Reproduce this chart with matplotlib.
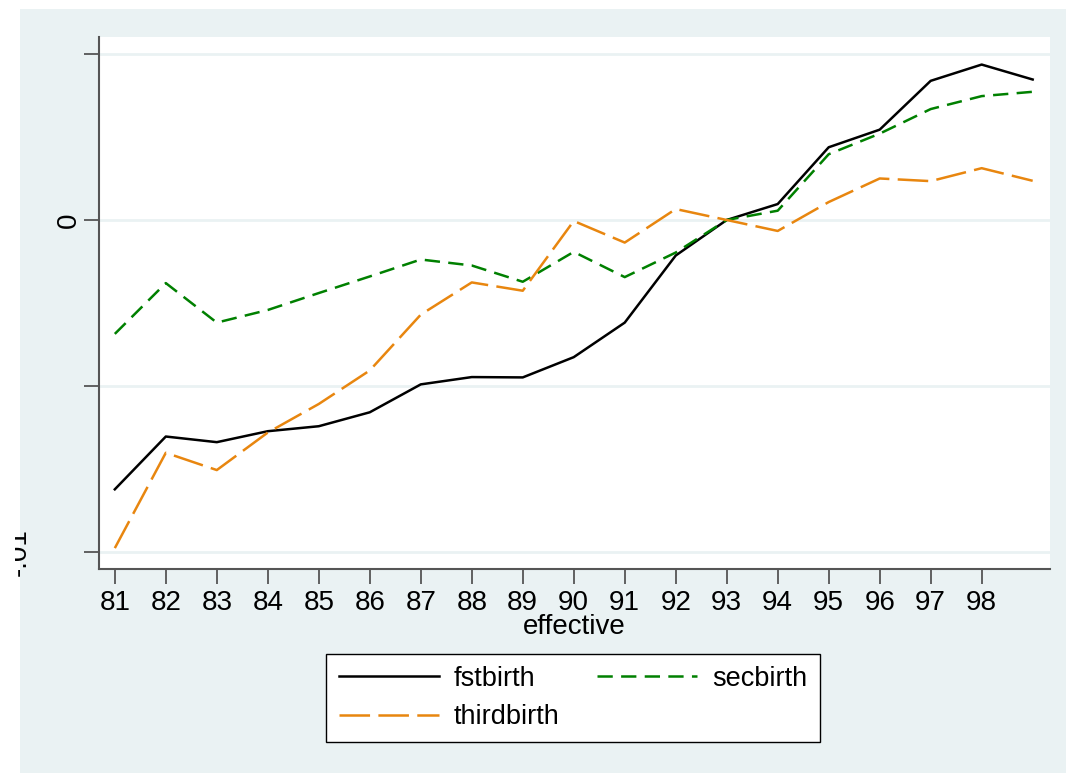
import matplotlib
matplotlib.use("Agg")
import matplotlib.pyplot as plt
from matplotlib.patches import Rectangle
from matplotlib.transforms import Bbox, TransformedBbox, blended_transform_factory

# data
years = list(range(81, 100))
fstbirth = [-0.00811, -0.00652, -0.00669, -0.00636, -0.00621, -0.00579, -0.00495,
            -0.00473, -0.00474, -0.00413, -0.00309, -0.00107, 0.0, 0.00048,
            0.00219, 0.00272, 0.00419, 0.00468, 0.00423]
secbirth = [-0.00343, -0.00190, -0.00309, -0.00271, -0.00220, -0.00170, -0.00119,
            -0.00137, -0.00186, -0.00096, -0.00172, -0.00098, 0.0, 0.00028,
            0.00198, 0.00260, 0.00334, 0.00373, 0.00386]
thirdbirth = [-0.00988, -0.00701, -0.00753, -0.00640, -0.00554, -0.00453, -0.00285,
              -0.00188, -0.00213, -0.00003, -0.00068, 0.00033, 0.0, -0.00033,
              0.00054, 0.00125, 0.00117, 0.00156, 0.00118]
xtick_labels = [str(y) for y in range(81, 99)]
ytick_vals = [-0.01, -0.005, 0, 0.005]

plt.rcParams['font.family'] = ['Liberation Sans', 'DejaVu Sans']
plt.rcParams['lines.scale_dashes'] = False

W, H = 1066, 773
bg = '#EAF2F3'
fig = plt.figure(figsize=(W / 100, H / 100), dpi=100)
fig.patch.set_facecolor('white')
# stata style outer region (white strip on top and left)
fig.patches.append(Rectangle((20 / W, 0), 1 - 20 / W, 1 - 9 / H, transform=fig.transFigure,
                             facecolor=bg, edgecolor='none', zorder=-10))

left, right, top, bottom = 98.5, 1050, 37, 568.7
ax = fig.add_axes([left / W, 1 - bottom / H, (right - left) / W, (bottom - top) / H])
ax.set_facecolor('white')

l1, = ax.plot(years, fstbirth, color='black', lw=1.8, label='fstbirth', zorder=3)
l2, = ax.plot(years, secbirth, color='#008000', lw=1.8, dashes=(11, 6), label='secbirth', zorder=3)
l3, = ax.plot(years, thirdbirth, color='#E8860F', lw=1.8, dashes=(22, 6), label='thirdbirth', zorder=3)

ax.set_xlim(80.68, 99.34)
ax.set_ylim(-0.0105, 0.00551)

ax.set_xticks(range(81, 99))
ax.set_xticklabels(xtick_labels)
ax.set_yticks(ytick_vals)
ax.set_yticklabels([])
for yv in ytick_vals:
    ax.axhline(yv, color=bg, lw=2, zorder=1)

# y labels placed like in the original (the -.01 one sits far left and is cut off)
tr = blended_transform_factory(fig.transFigure, ax.transData)
fig.text(76 / W, 0, '0', transform=tr, rotation=90, rotation_mode='anchor',
         ha='center', va='baseline', fontsize=20)
t = fig.text(25.5 / W, -0.01, '-.01', transform=tr, rotation=90, rotation_mode='anchor',
             ha='center', va='baseline', fontsize=20)
t.set_clip_box(TransformedBbox(Bbox([[15 / W, 0], [1, 1]]), fig.transFigure))
t.set_clip_on(True)

ax.tick_params(axis='both', length=11, width=1.3, color='#555555', labelsize=20)
ax.tick_params(axis='x', pad=4)
for s in ['top', 'right']:
    ax.spines[s].set_visible(False)
for s in ['left', 'bottom']:
    ax.spines[s].set_color('#555555')
    ax.spines[s].set_linewidth(1.5)

ax.set_xlabel('effective', fontsize=20, labelpad=-1)

# column-major fill: fst, third | sec  -> row 1 fst, sec; row 2 third
leg = fig.legend([l1, l3, l2], ['fstbirth', 'thirdbirth', 'secbirth'], ncol=2, loc='center',
                 bbox_to_anchor=(573 / W, 1 - 698 / H), fontsize=19.5,
                 handlelength=3.7, handletextpad=0.55, columnspacing=1.4,
                 labelspacing=0.45, borderpad=0.45, fancybox=False, framealpha=1)
leg.get_frame().set_edgecolor('black')
leg.get_frame().set_linewidth(1.0)

fig.savefig('out.png', dpi=100, facecolor=fig.get_facecolor())
